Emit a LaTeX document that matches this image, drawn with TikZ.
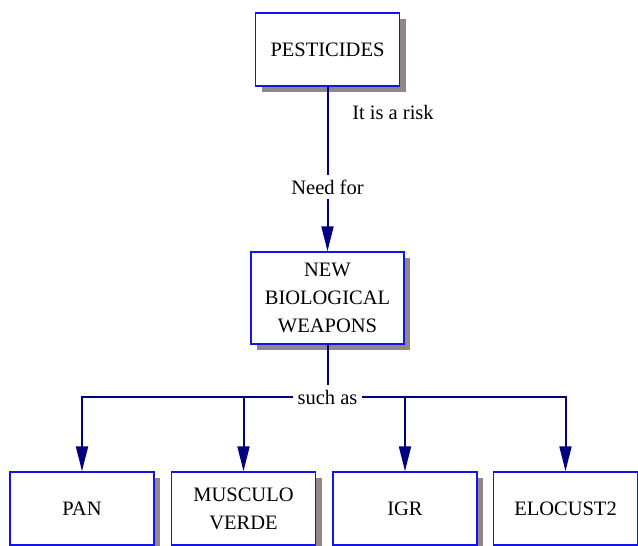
\documentclass[tikz,border=0pt]{standalone}
\usepackage{fontspec}
\setmainfont{Liberation Serif}
\usetikzlibrary{arrows.meta,shadows}
\definecolor{boxblue}{RGB}{20,20,230}
\definecolor{linknavy}{RGB}{0,0,128}
\definecolor{shadowgray}{RGB}{145,135,135}
\tikzset{
    concept/.style={draw=boxblue, line width=0.75pt, fill=white, align=center,
        minimum width=72pt, minimum height=36.5pt, inner sep=0pt,
        font=\fontsize{10.25}{14}\selectfont,
        drop shadow={shadow xshift=3pt, shadow yshift=-3pt, fill=shadowgray, opacity=1}},
    link/.style={draw=linknavy, line width=1pt},
    arrowlink/.style={link, -{Triangle[length=12.5pt, width=6pt]}},
    phrase/.style={font=\fontsize{10.25}{14}\selectfont, inner sep=2pt}
}

\begin{document}
\begin{tikzpicture}[x=0.5pt, y=-0.5pt]
        \useasboundingbox (0,0) rectangle (638,546);
        \node[concept] (pest) at (327.5,49.5) {PESTICIDES};
        \node[concept, minimum width=76.5pt, minimum height=46pt] (weap) at (327.5,298) {NEW\\BIOLOGICAL\\WEAPONS};
        \node[concept] (pan) at (82,508.5) {PAN};
        \node[concept] (musc) at (243.5,508.5) {MUSCULO\\VERDE};
        \node[concept] (igr) at (405,508.5) {IGR};
        \node[concept] (elo) at (565.5,508.5) {ELOCUST2};

        \node[phrase] (risk) at (393,112) {It is a risk};
        \node[phrase] (need) at (327.5,187) {Need for};
        \node[phrase] (such) at (327.5,397) {such as};

        \draw[link] (pest) -- (need);
        \draw[arrowlink] (need) -- (weap);
        \draw[link] (weap) -- (such);
        \draw[arrowlink] (such.west) -| (pan);
        \draw[arrowlink] (such.west) -| (musc);
        \draw[arrowlink] (such.east) -| (igr);
        \draw[arrowlink] (such.east) -| (elo);
    \end{tikzpicture}
\end{document}
